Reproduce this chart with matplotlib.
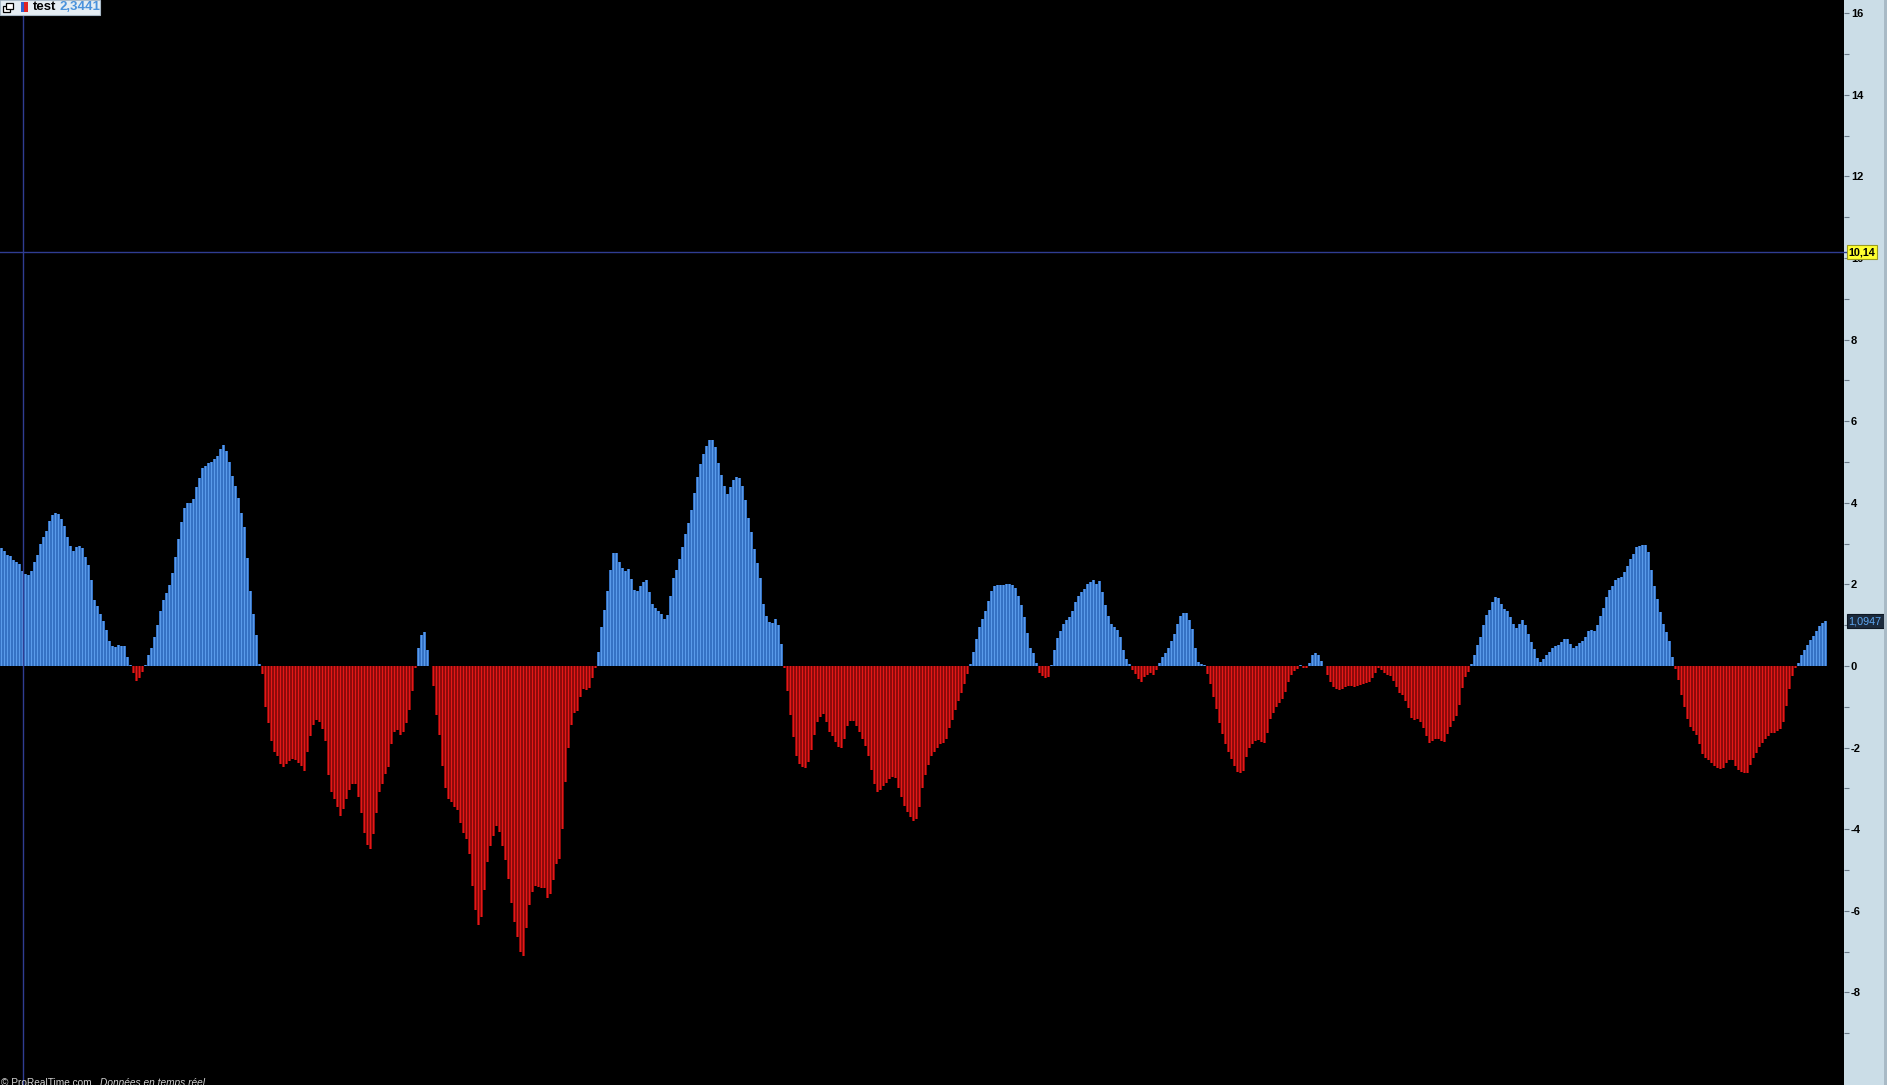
import numpy as np
import matplotlib
matplotlib.use('Agg')
import matplotlib.pyplot as plt
from matplotlib.patches import Rectangle
from matplotlib.lines import Line2D

plt.rcParams['font.family'] = ['Liberation Sans', 'DejaVu Sans']

# oscillator values, one per bar (left to right)
vals_a = [2.89, 2.82, 2.72, 2.70, 2.59, 2.55, 2.50, 2.34, 2.26, 2.24,
          2.32, 2.56, 2.72, 2.98, 3.17, 3.31, 3.55, 3.70, 3.75, 3.72,
          3.61, 3.42, 3.16, 2.93, 2.82, 2.92, 2.93, 2.88, 2.68, 2.48,
          2.12, 1.62, 1.47, 1.27, 1.10, 0.88, 0.62, 0.50, 0.47, 0.51,
          0.50, 0.48, 0.22, 0.03, -0.18, -0.37, -0.30, -0.15, 0.02, 0.26,
          0.45, 0.70, 1.00, 1.35, 1.62, 1.80, 1.98, 2.28, 2.68, 3.12,
          3.52, 3.88, 4.00, 4.00, 4.10, 4.38, 4.60, 4.85, 4.90, 4.98,
          5.00, 5.08, 5.15, 5.32, 5.42, 5.28, 5.00, 4.65, 4.42, 4.12,
          3.75, 3.40, 2.65, 1.85, 1.28, 0.75, 0.04, -0.20, -1.00, -1.40,
          -1.85, -2.12, -2.20, -2.40, -2.48, -2.40, -2.32, -2.28, -2.30, -2.38]
vals_b = [-2.45, -2.58, -2.10, -1.72, -1.45, -1.32, -1.38, -1.55, -1.85, -2.67,
          -3.08, -3.26, -3.45, -3.67, -3.50, -3.25, -3.03, -2.88, -2.90, -3.20,
          -3.60, -4.10, -4.38, -4.48, -4.12, -3.60, -3.10, -2.88, -2.65, -2.48,
          -1.90, -1.62, -1.57, -1.68, -1.62, -1.40, -1.08, -0.62, -0.05, 0.45,
          0.75, 0.84, 0.38, 0.01, -0.50, -1.20, -1.68, -2.45, -2.98, -3.25,
          -3.34, -3.46, -3.52, -3.85, -4.10, -4.25, -4.62, -5.40, -5.98, -6.36,
          -6.15, -5.50, -4.80, -4.42, -4.17, -3.93, -4.07, -4.40, -4.75, -5.22,
          -5.82, -6.28, -6.65, -7.02, -7.10, -6.42, -5.86, -5.55, -5.39, -5.42,
          -5.43, -5.45, -5.69, -5.60, -5.25, -4.85, -4.72, -4.00, -2.85, -2.00,
          -1.45, -1.15, -1.10, -0.75, -0.57, -0.60, -0.53, -0.30, -0.05, 0.35]
vals_c = [0.95, 1.38, 1.85, 2.35, 2.78, 2.78, 2.55, 2.41, 2.34, 2.38,
          2.13, 1.87, 1.85, 1.97, 2.07, 2.10, 1.82, 1.52, 1.42, 1.34,
          1.27, 1.14, 1.24, 1.72, 2.15, 2.36, 2.63, 2.92, 3.24, 3.50,
          3.82, 4.24, 4.63, 4.95, 5.20, 5.38, 5.53, 5.55, 5.36, 4.98,
          4.67, 4.40, 4.22, 4.38, 4.55, 4.64, 4.60, 4.40, 4.08, 3.62,
          3.28, 2.86, 2.52, 2.15, 1.52, 1.22, 1.08, 1.05, 1.15, 1.00,
          0.55, -0.05, -0.62, -1.20, -1.75, -2.20, -2.40, -2.48, -2.50, -2.35,
          -2.05, -1.68, -1.38, -1.24, -1.17, -1.38, -1.62, -1.72, -1.87, -1.98,
          -2.00, -1.80, -1.47, -1.34, -1.36, -1.46, -1.62, -1.80, -1.96, -2.20,
          -2.55, -2.88, -3.10, -3.05, -2.95, -2.86, -2.78, -2.72, -2.75, -3.00]
vals_d = [-3.22, -3.42, -3.58, -3.71, -3.79, -3.74, -3.45, -2.98, -2.66, -2.42,
          -2.20, -2.10, -2.00, -1.92, -1.88, -1.78, -1.53, -1.32, -1.08, -0.86,
          -0.65, -0.44, -0.20, 0.06, 0.35, 0.65, 0.95, 1.16, 1.36, 1.59,
          1.85, 1.96, 1.98, 1.98, 1.98, 2.00, 2.00, 1.99, 1.92, 1.72,
          1.50, 1.20, 0.80, 0.45, 0.33, 0.08, -0.18, -0.25, -0.30, -0.28,
          0.03, 0.38, 0.68, 0.85, 1.03, 1.12, 1.20, 1.34, 1.56, 1.72,
          1.82, 1.88, 2.00, 2.07, 2.10, 2.00, 2.08, 1.82, 1.50, 1.22,
          1.03, 0.95, 0.88, 0.70, 0.38, 0.17, 0.05, -0.09, -0.19, -0.32,
          -0.38, -0.28, -0.22, -0.18, -0.22, -0.10, 0.08, 0.22, 0.32, 0.45,
          0.62, 0.78, 1.02, 1.22, 1.31, 1.31, 1.12, 0.90, 0.45, 0.10]
vals_e = [0.05, 0.02, -0.20, -0.45, -0.75, -1.05, -1.40, -1.66, -1.90, -2.11,
          -2.27, -2.44, -2.60, -2.63, -2.58, -2.22, -2.00, -1.92, -1.84, -1.81,
          -1.87, -1.88, -1.65, -1.30, -1.15, -1.01, -0.90, -0.80, -0.63, -0.39,
          -0.22, -0.13, -0.08, 0.02, -0.06, -0.05, 0.07, 0.26, 0.33, 0.28,
          0.12, 0.01, -0.22, -0.40, -0.51, -0.56, -0.60, -0.56, -0.52, -0.50,
          -0.50, -0.51, -0.48, -0.47, -0.45, -0.41, -0.38, -0.30, -0.16, -0.05,
          -0.10, -0.17, -0.21, -0.25, -0.37, -0.52, -0.66, -0.72, -0.86, -1.04,
          -1.27, -1.33, -1.30, -1.38, -1.52, -1.72, -1.88, -1.84, -1.79, -1.78,
          -1.85, -1.86, -1.66, -1.50, -1.35, -1.22, -0.95, -0.55, -0.27, -0.15,
          0.04, 0.27, 0.52, 0.72, 1.00, 1.24, 1.38, 1.58, 1.68, 1.66]
vals_f = [1.52, 1.40, 1.34, 1.20, 1.02, 0.93, 1.03, 1.13, 1.00, 0.78,
          0.60, 0.42, 0.20, 0.10, 0.17, 0.27, 0.35, 0.45, 0.50, 0.52,
          0.60, 0.66, 0.66, 0.53, 0.45, 0.50, 0.56, 0.61, 0.72, 0.86,
          0.89, 0.87, 1.00, 1.23, 1.42, 1.68, 1.86, 1.96, 2.10, 2.16,
          2.19, 2.30, 2.46, 2.63, 2.75, 2.92, 2.95, 2.97, 2.97, 2.80,
          2.35, 1.95, 1.64, 1.33, 1.04, 0.83, 0.62, 0.22, -0.07, -0.34,
          -0.72, -1.00, -1.30, -1.50, -1.60, -1.70, -1.92, -2.15, -2.25, -2.31,
          -2.38, -2.44, -2.51, -2.52, -2.50, -2.38, -2.30, -2.31, -2.45, -2.54,
          -2.59, -2.62, -2.62, -2.42, -2.26, -2.14, -1.98, -1.88, -1.78, -1.72,
          -1.65, -1.63, -1.60, -1.55, -1.38, -0.98, -0.56, -0.25, -0.05, 0.08,
          0.28, 0.40, 0.52, 0.63, 0.74, 0.86, 0.98, 1.05, 1.0947]

y_major = [16, 14, 12, 10, 8, 6, 4, 2, 0, -2, -4, -6, -8]
y_minor = [15, 13, 11, 9, 7, 5, 3, 1, -1, -3, -5, -7, -9]
level_value = 10.14
cursor_bar = 7
cursor_value = 2.3441
last_value = 1.0947

vals = np.array(vals_a + vals_b + vals_c + vals_d + vals_e + vals_f)
x = np.arange(len(vals))

W, H = 1887, 1085
plot_w = 1844
fig = plt.figure(figsize=(W / 100, H / 100), dpi=100)
fig.patch.set_facecolor('#cbdde7')
ax = fig.add_axes([0, 0, plot_w / W, 1])
ax.set_facecolor('black')

pos = vals >= 0
ax.bar(x[pos], vals[pos], width=0.74, color='#3572c4', linewidth=0)
ax.bar(x[pos], vals[pos], width=0.52, color='#5a9bea', linewidth=0)
ax.bar(x[~pos], vals[~pos], width=1.0, color='#8e0a0a', linewidth=0)
ax.bar(x[~pos], vals[~pos], width=0.6, color='#e41818', linewidth=0)

ax.axhline(level_value, color='#2f3d92', lw=1)
ax.axvline(cursor_bar, color='#2f3d92', lw=1)

ax.set_xlim(-0.5, plot_w / 3 - 0.5)
ax.set_ylim(-(H - 666) / 40.8, 666 / 40.8)
ax.set_xticks([])
ax.yaxis.tick_right()
ax.set_yticks(y_major)
ax.set_yticks(y_minor, minor=True)
ax.set_yticklabels([str(v) for v in y_major])
ax.tick_params(axis='y', which='both', direction='out', length=3.5, width=0.8,
               color='#6a7a88', pad=1.5, labelsize=8)
for lab in ax.get_yticklabels():
    lab.set_fontweight('bold')
for s in ax.spines.values():
    s.set_visible(False)

# short stub of the level line into the axis panel
ax.add_line(Line2D([1.0, 1.004], [level_value, level_value], color='#2f3d92', lw=1,
                   transform=ax.get_yaxis_transform(), clip_on=False))

ytr = ax.get_yaxis_transform()
ax.text(1.0025, level_value, '10,14', transform=ytr, va='center', ha='left',
        fontsize=7.8, fontweight='bold', color='black', clip_on=False,
        bbox=dict(boxstyle='square,pad=0.18', fc='#ffff30', ec='#9c9c20', lw=0.8))
ax.text(1.0025, last_value, '1,0947', transform=ytr, va='center', ha='left',
        fontsize=7.8, color='#5da6f0', clip_on=False,
        bbox=dict(boxstyle='square,pad=0.18', fc='#1b2a3c', ec='#0e1824', lw=0.8))

# right border of the panel
fig.patches.append(Rectangle((1884 / W, 0), 3 / W, 1, transform=fig.transFigure,
                             fc='#a9bac6', ec='none'))

# top-left indicator tag
fig.patches.append(Rectangle((0, (H - 15) / H), 100 / W, 15 / H, transform=fig.transFigure,
                             fc='#e5edf3', ec='#a9b9c7', lw=0.8, zorder=5))
fig.patches.append(Rectangle((3 / W, (H - 12) / H), 7 / W, 6 / H, transform=fig.transFigure,
                             fc='white', ec='black', lw=0.9, zorder=6))
fig.patches.append(Rectangle((6 / W, (H - 9) / H), 7 / W, 6 / H, transform=fig.transFigure,
                             fc='white', ec='black', lw=0.9, zorder=6))
fig.patches.append(Rectangle((21 / W, (H - 12) / H), 3 / W, 10 / H, transform=fig.transFigure,
                             fc='#2e62d0', ec='none', zorder=6))
fig.patches.append(Rectangle((24 / W, (H - 12) / H), 4 / W, 10 / H, transform=fig.transFigure,
                             fc='#e02424', ec='none', zorder=6))
fig.text(33 / W, (H - 7.5) / H, 'test', fontsize=9.5, fontweight='bold', color='black',
         va='center', ha='left', zorder=7)
fig.text(60 / W, (H - 7.5) / H, f'{cursor_value:.4f}'.replace('.', ','), fontsize=9.5,
         fontweight='bold', color='#4a92dc', va='center', ha='left', zorder=7)

# footer text, partly cut by the bottom edge
fig.text(1 / W, 7 / H, '\u00a9 ProRealTime.com', fontsize=7.3, color='#d2d2d2',
         va='top', ha='left')
fig.text(100 / W, 7 / H, 'Donn\u00e9es en temps r\u00e9el', fontsize=7.3, color='#d2d2d2',
         style='italic', va='top', ha='left')

fig.savefig('out.png', dpi=100, facecolor=fig.get_facecolor())
